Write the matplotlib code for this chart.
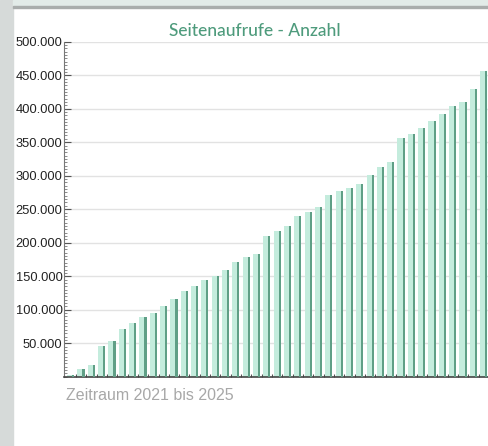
import matplotlib
matplotlib.use('agg')
import matplotlib.pyplot as plt
from matplotlib.ticker import FuncFormatter, MultipleLocator
from matplotlib.patches import Rectangle
import numpy as np

# page views, cumulative, one bar per period
views = [3000, 11000, 17500, 46000, 54000, 71000, 80000, 89000, 95500, 105500,
         115500, 128000, 135000, 144000, 150000, 159000, 171000, 178500, 183000, 210000,
         217500, 225000, 240000, 246000, 254000, 270500, 277000, 281000, 288000, 301000,
         313500, 321000, 357000, 362000, 370500, 382000, 392000, 404000, 409500, 430000,
         456000]
y_ticks = [50000, 100000, 150000, 200000, 250000, 300000, 350000, 400000, 450000, 500000]
title = 'Seitenaufrufe - Anzahl'
caption = 'Zeitraum 2021 bis 2025'

light = '#c4ecdd'
dark = '#5f9f86'

fig = plt.figure(figsize=(4.89, 4.46), dpi=100)
fig.patch.set_facecolor('white')

# page decoration: grey strip on the left, light band on top
fig.add_artist(Rectangle((0, 0), 13/489, 1, transform=fig.transFigure, color='#d6dad9', zorder=0))
fig.add_artist(Rectangle((13/489, 1 - 6/446), 1, 6/446, transform=fig.transFigure, color='#e2ebe8', zorder=0))
fig.add_artist(Rectangle((13/489, 1 - 7.5/446), 1, 1.5/446, transform=fig.transFigure, color='#a9adac', zorder=0))

ax = fig.add_axes([64/489, 1 - 376.7/446, 425/489, 335/446])
x = np.arange(len(views))
ax.bar(x - 0.1, views, width=0.52, color=light, zorder=2)
ax.bar(x + 0.24, views, width=0.2, color=dark, zorder=3)

ax.set_xlim(-0.65, 40.45)
ax.set_ylim(0, 500000)
ax.set_yticks(y_ticks)
ax.yaxis.set_major_formatter(FuncFormatter(lambda v, p: f'{int(v):,}'.replace(',', '.')))
ax.yaxis.set_minor_locator(MultipleLocator(5000))
ax.tick_params(axis='y', which='major', direction='in', length=5, width=0.8, color='#555555',
               labelsize=9.3, pad=1)
ax.tick_params(axis='y', which='minor', direction='in', length=2.5, width=0.6, color='#777777')
for lab in ax.get_yticklabels():
    lab.set_family('Liberation Sans')
    lab.set_color('#222222')
ax.set_xticks(x + 0.5)
ax.set_xticklabels([])
ax.tick_params(axis='x', direction='in', length=2.5, width=0.8, color='#555555')

ax.grid(axis='y', color='#e2e2e2', linewidth=1, zorder=0)
ax.set_axisbelow(True)
for s in ['top', 'right']:
    ax.spines[s].set_visible(False)
ax.spines['left'].set_color('#777777')
ax.spines['left'].set_linewidth(0.8)
ax.spines['bottom'].set_color('#444444')
ax.spines['bottom'].set_linewidth(1.2)

fig.text(255/489, 1 - 31/446, title, ha='center', va='center', fontsize=12.5,
         color='#4e9b7c', family='Lato', weight='medium')
fig.text(66/489, 1 - 396/446, caption, ha='left', va='center', fontsize=11.5,
         color='#a8a8a8', family='Liberation Sans')

plt.savefig('out.png', dpi=100)
plt.close()
